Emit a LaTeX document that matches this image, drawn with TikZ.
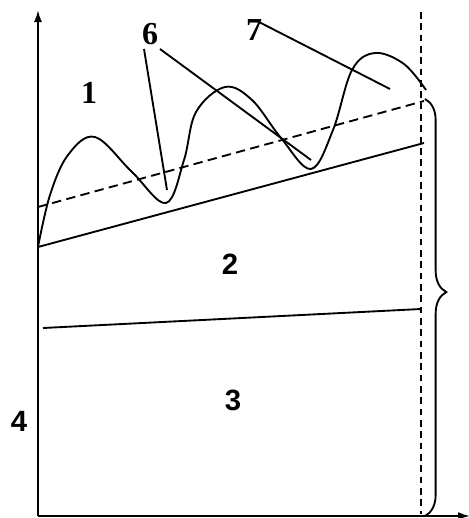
\documentclass[tikz,border=0pt]{standalone}
\usepackage{fontspec}
\setmainfont{Liberation Serif}
\setsansfont{Liberation Sans}
\usetikzlibrary{arrows.meta,decorations.pathreplacing}
\begin{document}
\begin{tikzpicture}[x=0.75pt,y=-0.75pt,line width=1.4pt,
    serlbl/.style={font=\bfseries\fontsize{24}{24}\selectfont},
    sanlbl/.style={font=\sffamily\bfseries\fontsize{22}{22}\selectfont}]
    \useasboundingbox (0,0) rectangle (468,518);
    % axes
    \coordinate (orig) at (38,516);
    \coordinate (ytop) at (38,10);
    \coordinate (xend) at (470,516);
    \draw[-{Latex[length=9pt,width=6pt]}] (orig)--(ytop);
    \draw[-{Latex[length=9pt,width=6pt]}] (orig)--(xend);
    \coordinate (vtop) at (421,12);
    \coordinate (vbot) at (421,514);
    \draw[line width=1.1pt,dash pattern=on 5pt off 3.5pt] (vtop)--(vbot);
    % boundary lines
    \coordinate (aL) at (38,247);  \coordinate (aR) at (424,143);
    \coordinate (dL) at (38,207);  \coordinate (dR) at (424,101);
    \coordinate (bL) at (43,328);  \coordinate (bR) at (421,309);
    \draw (aL)--(aR);
    \draw[dash pattern=on 7pt off 4pt] (dL)--(dR);
    \draw (bL)--(bR);
    % surface
    \draw[line join=round] plot[smooth,tension=0.6] coordinates
      {(38,247) (50,195) (68,155) (95,137) (132,172) (166,203) (184,160) (196,112)
       (225,87) (252,100) (281,138) (311,169) (333,130) (352,70) (375,53) (404,64) (426,90)};
    % labels
    \node[serlbl] (one) at (89,93) {1};
    \node[serlbl] (six) at (150,34) {6};
    \node[serlbl] (seven) at (254,30) {7};
    \node[sanlbl] (two) at (230,264) {2};
    \node[sanlbl] (three) at (233,400) {3};
    \node[sanlbl] (four) at (19,421) {4};
    % leaders
    \coordinate (sixA) at (144,49);  \coordinate (trA) at (167,190);
    \coordinate (sixB) at (160,49);  \coordinate (trB) at (311,160);
    \coordinate (sevA) at (257,21);  \coordinate (pkC) at (390,89);
    \draw (sixA)--(trA);
    \draw (sixB)--(trB);
    \draw (sevA)--(pkC);
    % brace
    \coordinate (brT) at (425,99);
    \coordinate (brB) at (425,516);
    \draw[decorate,decoration={brace,amplitude=16pt,aspect=0.463}] (brT)--(brB);
\end{tikzpicture}
\end{document}
